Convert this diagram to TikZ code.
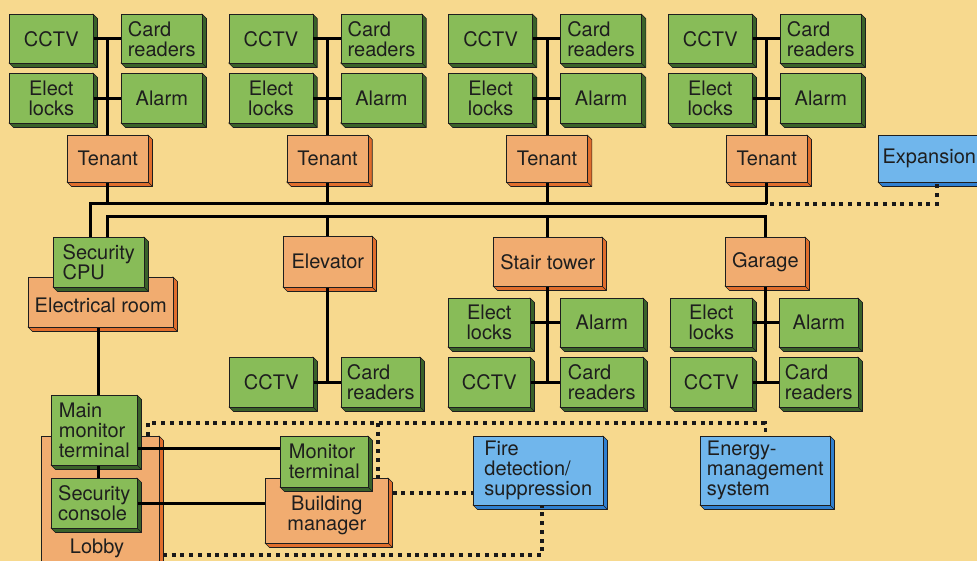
\documentclass[tikz,border=0pt]{standalone}
\usepackage{fontspec}
\setmainfont{TeX Gyre Heros}
\usetikzlibrary{calc}
\definecolor{bg}{RGB}{247,217,142}
\definecolor{gfront}{RGB}{136,188,88}
\definecolor{gside}{RGB}{58,98,42}
\definecolor{ofront}{RGB}{241,172,112}
\definecolor{oside}{RGB}{224,110,45}
\definecolor{bfront}{RGB}{112,182,236}
\definecolor{bside}{RGB}{48,128,208}
\definecolor{ink}{RGB}{30,30,30}
\tikzset{
  boxnode/.style={draw=ink, line width=0.6pt, inner sep=0pt, anchor=north west,
    text=ink, font=\fontsize{20}{20}\selectfont},
  wire/.style={draw=black, line width=3pt},
  dotline/.style={draw=black!90, line width=3.5pt, dash pattern=on 4pt off 4.7pt},
}
% #1 align, #2 front, #3 side, #4 name, #5 x1, #6 y1, #7 x2, #8 y2, #9 text
\newcommand\xbox[9][left]{%
  \filldraw[fill=#3, draw=ink, line width=0.6pt, line join=round]
    (#7,#6) -- ({#7+4.5},{#6+4.5}) -- ({#7+4.5},{#8+4.5}) -- ({#5+4.5},{#8+4.5}) -- (#5,#8) -- cycle;
  \draw[ink, line width=0.6pt] (#7,#8) -- ({#7+4.5},{#8+4.5});
  \node[boxnode, fill=#2, align=#1, minimum width={((#7)-(#5))*1pt},
    minimum height={((#8)-(#6))*1pt}] (#4) at (#5,#6) {#9};
}
\newcommand\tgroup[2]{%
  \xbox{gfront}{gside}{cctv#1}{9+#2}{14}{93+#2}{63}{CCTV}
  \xbox{gfront}{gside}{card#1}{121+#2}{14}{202+#2}{63}{Card\\readers}
  \xbox[center]{gfront}{gside}{elock#1}{9+#2}{73}{93+#2}{123}{Elect\\locks}
  \xbox{gfront}{gside}{alarm#1}{121+#2}{73}{202+#2}{123}{Alarm}
  \xbox{ofront}{oside}{tenant#1}{67+#2}{135}{148+#2}{182}{Tenant}
}
\begin{document}
\begin{tikzpicture}[x=1pt,y=-1pt]
\useasboundingbox (0,0) rectangle (977,561);
\fill[bg] (0,0) rectangle (977,561);
\clip (0,0) rectangle (977,561);

% tenant groups
\tgroup{1}{0}
\tgroup{2}{219.7}
\tgroup{3}{439.3}
\tgroup{4}{659}
\xbox{bfront}{bside}{exp}{878}{135}{980}{182}{Expansion}

% electrical room / security CPU
\xbox[center]{ofront}{oside}{elec}{28}{277}{173}{327}{\rule{0pt}{20pt}Electrical room}
\xbox{gfront}{gside}{cpu}{53}{237}{144}{287}{Security\\CPU}

% elevator
\xbox{ofront}{oside}{elev}{283}{236}{372}{287}{Elevator}
\xbox{gfront}{gside}{ecctv}{229}{357}{313}{407}{CCTV}
\xbox{gfront}{gside}{ecard}{341}{357}{420}{407}{Card\\readers}

% stair tower
\xbox{ofront}{oside}{stair}{493}{237}{602}{286}{Stair tower}
\xbox[center]{gfront}{gside}{slock}{448}{298}{530}{347}{Elect\\locks}
\xbox{gfront}{gside}{salarm}{560}{298}{643}{347}{Alarm}
\xbox{gfront}{gside}{scctv}{448}{357}{530}{407}{CCTV}
\xbox{gfront}{gside}{scard}{560}{357}{643}{407}{Card\\readers}

% garage
\xbox{ofront}{oside}{garage}{725}{237}{805}{286}{Garage}
\xbox[center]{gfront}{gside}{glock}{670}{298}{752}{347}{Elect\\locks}
\xbox{gfront}{gside}{galarm}{779}{298}{858}{347}{Alarm}
\xbox{gfront}{gside}{gcctv}{670}{357}{752}{407}{CCTV}
\xbox{gfront}{gside}{gcard}{779}{357}{858}{407}{Card\\readers}

% lobby
\xbox{ofront}{oside}{lobby}{41}{436}{159}{570}{}
\node[text=ink, font=\fontsize{20}{20}\selectfont, anchor=base, inner sep=0pt] (lobbytxt) at (97,553) {Lobby};
\xbox{gfront}{gside}{mmt}{51}{395}{137}{465}{Main\\monitor\\terminal}
\xbox{gfront}{gside}{scon}{51}{478}{137}{528}{Security\\console}

% building manager
\xbox[center]{ofront}{oside}{bm}{265}{478}{388}{543}{\rule{0pt}{23pt}Building\\manager}
\xbox{gfront}{gside}{mt}{280}{436}{368}{487}{Monitor\\terminal}

% other systems
\xbox{bfront}{bside}{fire}{473}{436}{603}{505}{Fire\\detection/\\suppression}
\xbox{bfront}{bside}{em}{700}{436}{830}{505}{Energy-\\management\\system}

% group wiring
\foreach \k in {1,2,3,4}{
  \draw[wire] (cctv\k.east) -- (card\k.west);
  \draw[wire] (elock\k.east) -- (alarm\k.west);
  \draw[wire] (tenant\k.north |- cctv\k.east) -- (tenant\k.north);
}
\coordinate (bus1L) at (90,204);
\coordinate (bus2L) at (107,217);
\foreach \k in {1,2,3,4}{
  \draw[wire] (tenant\k.south) -- (tenant\k.south |- bus1L);
}
\draw[wire] (cpu.north -| bus1L) -- (bus1L) -- (tenant4.south |- bus1L);
\draw[wire] (cpu.north -| bus2L) -- (bus2L) -- (bus2L -| garage.north) -- (garage.north);
\draw[wire] (elev.north |- bus2L) -- (elev.north);
\draw[wire] (stair.north |- bus2L) -- (stair.north);

\draw[wire] (elev.south) -- (elev.south |- ecctv.east);
\draw[wire] (ecctv.east) -- (ecard.west);
\draw[wire] (stair.south) -- (stair.south |- scctv.east);
\draw[wire] (slock.east) -- (salarm.west);
\draw[wire] (scctv.east) -- (scard.west);
\draw[wire] (garage.south) -- (garage.south |- gcctv.east);
\draw[wire] (glock.east) -- (galarm.west);
\draw[wire] (gcctv.east) -- (gcard.west);

\coordinate (eline) at (98,0);
\draw[wire] (elec.south -| eline) -- (mmt.north -| eline);
\draw[wire] (mmt.south -| eline) -- (scon.north -| eline);
\coordinate (mline) at (0,448);
\draw[wire] (mmt.east |- mline) -- (mt.west |- mline);
\draw[wire] (scon.east) -- (scon.east -| bm.west);

% dotted links
\coordinate (d1) at (148,423);
\coordinate (d2) at (378,423);
\draw[dotline] (lobby.north -| d1) -- (d1) -- (d1 -| em.north) -- (em.north);
\draw[dotline] (d2) -- (d2 |- bm.north);
\coordinate (d3) at (0,493);
\draw[dotline] ([xshift=4pt]bm.east |- d3) -- (fire.west |- d3);
\coordinate (d4) at (163,555);
\coordinate (d5) at (542,555);
\draw[dotline] (d4) -- (d5) -- (d5 |- fire.south);
\coordinate (d6) at (937,204);
\draw[dotline] ([xshift=3pt]tenant4.south |- bus1L) -- (d6) -- (d6 |- exp.south);
\end{tikzpicture}
\end{document}
